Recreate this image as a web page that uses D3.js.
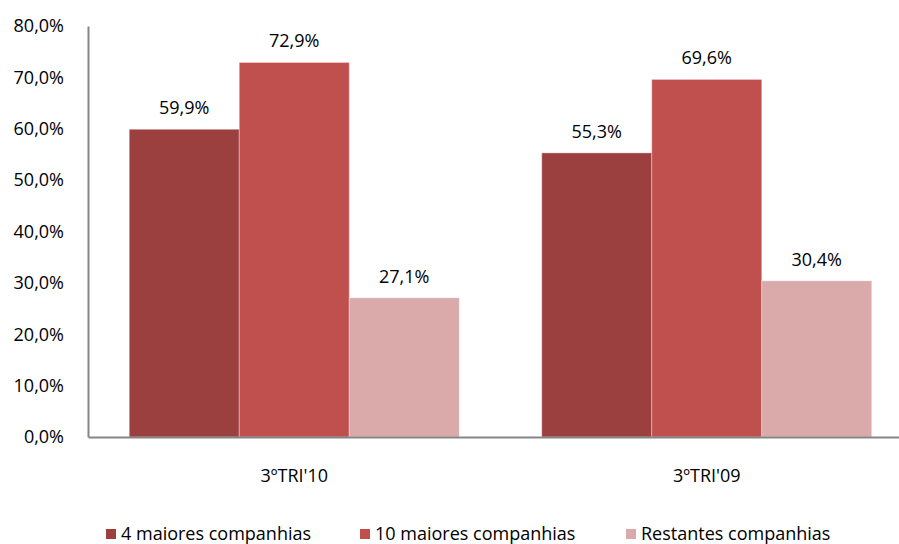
<!DOCTYPE html>
<html>
<head>
<meta charset="utf-8">
<script src="https://cdn.jsdelivr.net/npm/d3@7"></script>
<style>
  body { margin: 0; background: #fff; }
  svg text { font-family: "Open Sans", sans-serif; fill: #000; }
</style>
</head>
<body>
<div id="chart"></div>
<script>
// data
const categories = ["3ºTRI'10", "3ºTRI'09"];
const seriesNames = ["4 maiores companhias", "10 maiores companhias", "Restantes companhias"];
const values4 = [59.9, 55.3];
const values10 = [72.9, 69.6];
const valuesRest = [27.1, 30.4];
const yTicks = [0, 10, 20, 30, 40, 50, 60, 70, 80];
const colors = ["#9C403F", "#C0504E", "#DAA9A9"];

const width = 899, height = 544;
const fontSize = 18;
const series = [values4, values10, valuesRest];

const svg = d3.select('#chart').append('svg')
  .attr('width', width)
  .attr('height', height);

const fmt = v => v.toFixed(1).replace('.', ',') + '%';

const y = d3.scaleLinear().domain([0, 80]).range([437, 26]);
const x0 = d3.scaleBand().domain(categories).range([88, 913]).paddingInner(0).paddingOuter(0);
const x1 = d3.scaleBand().domain(d3.range(seriesNames.length))
  .range([0, x0.bandwidth()]).paddingOuter(0.375).paddingInner(0);

// y tick labels
svg.append('g')
  .selectAll('text')
  .data(yTicks)
  .enter()
  .append('text')
  .attr('x', 64)
  .attr('y', d => y(d))
  .attr('dy', '0.35em')
  .attr('text-anchor', 'end')
  .attr('font-size', fontSize)
  .text(d => fmt(d));

// bars
const groups = svg.append('g')
  .selectAll('g')
  .data(categories)
  .enter()
  .append('g')
  .attr('transform', d => 'translate(' + x0(d) + ',0)');

groups.selectAll('rect')
  .data((c, ci) => series.map((s, si) => ({ si: si, v: s[ci] })))
  .enter()
  .append('rect')
  .attr('x', d => x1(d.si))
  .attr('y', d => y(d.v))
  .attr('width', x1.bandwidth())
  .attr('height', d => y(0) - y(d.v))
  .attr('fill', d => colors[d.si])
  .attr('stroke', '#fff')
  .attr('stroke-opacity', 0.35)
  .attr('stroke-width', 1);

// value labels
groups.selectAll('text')
  .data((c, ci) => series.map((s, si) => ({ si: si, v: s[ci] })))
  .enter()
  .append('text')
  .attr('x', d => x1(d.si) + x1.bandwidth() / 2)
  .attr('y', d => y(d.v) - 15)
  .attr('text-anchor', 'middle')
  .attr('font-size', fontSize)
  .text(d => fmt(d.v));

// axes lines
const yAxis = d3.axisLeft(y).tickValues([]).tickSize(0);
svg.append('g')
  .attr('transform', 'translate(88,0)')
  .call(yAxis)
  .select('.domain')
  .attr('stroke', '#868686')
  .attr('stroke-width', 2);

const xAxis = d3.axisBottom(x0).tickSize(0).tickPadding(32);
const xg = svg.append('g')
  .attr('transform', 'translate(0,' + y(0) + ')')
  .call(xAxis);
xg.select('.domain').attr('stroke', '#868686').attr('stroke-width', 2);
xg.selectAll('text')
  .attr('font-size', fontSize)
  .attr('font-family', '"Open Sans", sans-serif')
  .attr('fill', '#000');

// legend
const legendX = [106, 360, 626];
const legend = svg.append('g')
  .selectAll('g')
  .data(seriesNames)
  .enter()
  .append('g')
  .attr('transform', (d, i) => 'translate(' + legendX[i] + ',529)');

legend.append('rect')
  .attr('width', 10)
  .attr('height', 10)
  .attr('fill', (d, i) => colors[i]);

legend.append('text')
  .attr('x', 15)
  .attr('y', 5)
  .attr('dy', '0.36em')
  .attr('font-size', fontSize)
  .text(d => d);
</script>
</body>
</html>
